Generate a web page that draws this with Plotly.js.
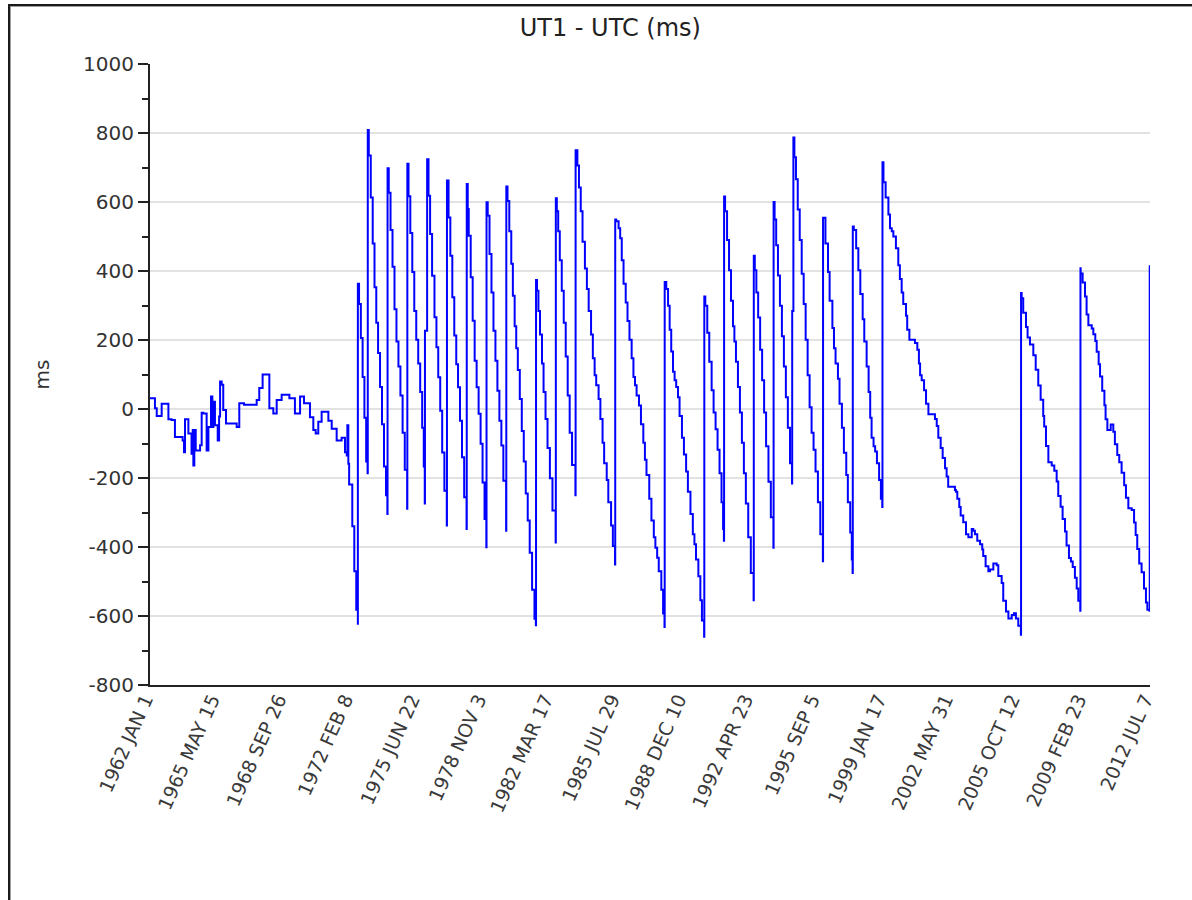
<!DOCTYPE html>
<html><head><meta charset="utf-8">
<script src="https://cdn.plot.ly/plotly-3.0.1.min.js"></script>
<style>
html,body{margin:0;padding:0;background:#fff;overflow:hidden;}
#chart{position:absolute;left:0;top:0;width:1192px;height:900px;}
#frame{position:absolute;left:8px;top:4px;width:1400px;height:1100px;border-top:2px solid #1a1a1a;border-left:2px solid #1a1a1a;box-shadow:inset 1px 1px 0 #a0a0a0;pointer-events:none;}
</style></head><body>
<div id="chart"></div><div id="frame"></div>
<script>
// Tick positions (dates) and their labels
const tickDates = ['1962-01-01','1965-05-15','1968-09-26','1972-02-08','1975-06-22','1978-11-03','1982-03-17','1985-07-29','1988-12-10','1992-04-23','1995-09-05','1999-01-17','2002-05-31','2005-10-12','2009-02-23','2012-07-07'];
const tickLabels = ['1962 JAN 1','1965 MAY 15','1968 SEP 26','1972 FEB 8','1975 JUN 22','1978 NOV 3','1982 MAR 17','1985 JUL 29','1988 DEC 10','1992 APR 23','1995 SEP 5','1999 JAN 17','2002 MAY 31','2005 OCT 12','2009 FEB 23','2012 JUL 7'];
const yTickVals = [-800,-600,-400,-200,0,200,400,600,800,1000];
const yTickLabels = ['-800','-600','-400','-200','0','200','400','600','800','1000'];

// UT1 - UTC (ms); time as decimal years
const years1962 = [1962.00,1962.25,1962.34,1962.59,1962.76,1962.93,1963.09,1963.26,1963.52,1963.65,1963.72,1963.77,1963.94,1964.10,1964.16,1964.19,1964.24,1964.31,1964.53,1964.61,1964.69,1964.86,1964.95,1965.08,1965.15,1965.20,1965.28,1965.42,1965.49,1965.54,1965.62,1965.70,1965.84,1966.38,1966.51,1966.75,1967.22,1967.39,1967.52,1967.69,1967.98,1968.03,1968.23,1968.40,1968.65,1968.91,1969.04,1969.32,1969.58,1969.78,1970.08,1970.25,1970.37,1970.50,1970.67,1971.01,1971.18,1971.43,1971.68,1971.85,1971.94,1971.97,1972.02,1972.06,1972.15,1972.22,1972.32,1972.42,1972.50];
const values1962 = [31,2,-20,15,15,-30,-32,-81,-81,-91,-125,-30,-71,-130,-61,-164,-61,-120,-105,-11,-13,-120,-52,36,-52,21,-47,-91,-22,80,70,-3,-42,-52,17,12,12,26,61,100,100,2,-13,26,41,41,31,-13,36,17,-24,-61,-71,-37,-8,-34,-57,-91,-83,-125,-135,-47,-159,-219,-219,-340,-470,-582,-625];

const years1972 = [1972.50,1972.56,1972.65,1972.74,1972.83,1972.92,1972.99,
1973.00,1973.05,1973.15,1973.25,1973.34,1973.43,1973.52,1973.62,1973.72,1973.82,1973.92,1973.99,
1974.00,1974.06,1974.15,1974.25,1974.35,1974.45,1974.55,1974.65,1974.76,1974.87,1974.99,
1975.00,1975.06,1975.15,1975.25,1975.35,1975.45,1975.55,1975.65,1975.75,1975.83,1975.88,1975.89,1976.00,
1976.00,1976.07,1976.15,1976.25,1976.37,1976.47,1976.56,1976.66,1976.76,1976.87,1976.99,
1977.00,1977.08,1977.17,1977.27,1977.37,1977.47,1977.56,1977.66,1977.76,1977.87,1977.99,
1978.00,1978.05,1978.10,1978.20,1978.30,1978.40,1978.50,1978.60,1978.70,1978.80,1978.90,1978.99,
1979.00,1979.06,1979.15,1979.25,1979.35,1979.45,1979.55,1979.65,1979.75,1979.85,1979.99,
1980.00,1980.06,1980.15,1980.25,1980.33,1980.42,1980.50,1980.58,1980.68,1980.78,1980.88,1980.98,1981.08,1981.18,1981.30,1981.42,1981.49,
1981.50,1981.55,1981.62,1981.70,1981.80,1981.88,1981.98,1982.08,1982.20,1982.33,1982.49,
1982.50,1982.55,1982.62,1982.70,1982.80,1982.90,1983.00,1983.10,1983.20,1983.32,1983.49,
1983.50,1983.59,1983.67,1983.76,1983.85,1983.97,1984.07,1984.16,1984.28,1984.37,1984.46,1984.54,1984.66,1984.75,1984.86,1984.94,1985.07,1985.15,1985.29,1985.38,1985.49,
1985.50,1985.55,1985.67,1985.75,1985.83,1985.92,1986.03,1986.12,1986.22,1986.33,1986.42,1986.50,1986.58,1986.70,1986.80,1986.92,1987.00,1987.08,1987.22,1987.33,1987.45,1987.53,1987.62,1987.70,1987.83,1987.92,1987.99,
1988.00,1988.08,1988.17,1988.25,1988.33,1988.42,1988.50,1988.58,1988.67,1988.75,1988.87,1988.97,1989.08,1989.17,1989.30,1989.42,1989.50,1989.58,1989.70,1989.80,1989.88,1989.99];
const values1972 = [363,304,206,93,-25,-152,-186,
809,735,613,480,353,250,162,64,-44,-167,-250,-304,
698,627,519,412,289,196,123,39,-69,-176,-289,
711,617,510,397,284,201,132,49,-54,-167,-274,227,227,
724,618,507,386,266,179,92,-5,-126,-237,-338,
662,555,444,324,213,130,63,-34,-140,-256,-348,
652,580,502,382,256,140,63,-14,-101,-213,-319,-401,
599,560,449,338,227,140,53,-34,-106,-208,-353,
645,603,515,421,328,240,176,113,29,-64,-152,-245,-323,-417,-524,-608,-627,
374,343,284,216,132,49,-29,-113,-201,-294,-387,
611,573,515,431,343,250,152,39,-69,-162,-250,
750,706,642,573,485,407,348,284,216,147,98,69,29,-29,-98,-157,-206,-270,-338,-397,-451,
549,544,524,495,431,363,309,255,201,147,93,69,39,10,-44,-98,-147,-191,-260,-323,-372,-402,-431,-470,-524,-593,-632,
368,348,299,230,167,108,83,64,34,-20,-83,-132,-181,-240,-304,-363,-392,-436,-485,-554,-613,-660];

const years1990 = [1990.00,1990.05,1990.15,1990.25,1990.37,1990.47,1990.57,1990.67,1990.77,1990.87,1990.95,1990.99,
1991.00,1991.05,1991.15,1991.25,1991.35,1991.45,1991.52,1991.60,1991.70,1991.80,1991.90,1992.00,1992.10,1992.22,1992.35,1992.49,
1992.50,1992.55,1992.63,1992.72,1992.82,1992.92,1993.02,1993.12,1993.24,1993.36,1993.49,
1993.50,1993.55,1993.63,1993.72,1993.82,1993.92,1994.02,1994.12,1994.22,1994.33,1994.43,1994.44,1994.50,
1994.50,1994.55,1994.63,1994.72,1994.82,1994.92,1995.02,1995.12,1995.22,1995.32,1995.42,1995.52,1995.62,1995.74,1995.86,1995.99,
1996.00,1996.12,1996.25,1996.33,1996.47,1996.55,1996.63,1996.75,1996.83,1996.95,1997.05,1997.17,1997.25,1997.37,1997.45,1997.49,
1997.50,1997.55,1997.67,1997.78,1997.88,1998.00,1998.08,1998.20,1998.30,1998.38,1998.45,1998.55,1998.63,1998.72,1998.83,1998.92,1998.99];
const values1990 = [326,299,221,137,54,-10,-59,-118,-186,-270,-348,-382,
616,573,490,402,314,240,196,137,64,-10,-98,-186,-274,-372,-475,-554,
444,402,338,265,172,83,-10,-108,-211,-314,-402,
600,549,475,387,299,211,123,34,-54,-157,-216,284,284,
787,730,666,578,490,392,304,201,98,5,-69,-118,-181,-270,-363,-441,
554,480,397,314,235,176,132,88,15,-54,-127,-191,-270,-358,-436,-475,
529,519,466,402,333,260,196,123,49,-25,-83,-108,-123,-157,-206,-260,-284];

const years1999 = [1999.00,1999.05,1999.16,1999.30,1999.38,1999.47,1999.55,1999.68,1999.80,1999.88,1999.97,2000.05,2000.19,2000.25,2000.36,2000.64,2000.76,2000.84,2000.90,2000.98,2001.10,2001.20,2001.32,2001.65,2001.74,2001.82,2001.94,2002.04,2002.16,2002.24,2002.32,2002.66,2002.71,2002.78,2002.88,2002.95,2003.08,2003.22,2003.34,2003.51,2003.59,2003.67,2003.79,2003.93,2004.04,2004.09,2004.21,2004.35,2004.43,2004.60,2004.77,2004.85,2005.02,2005.10,2005.24,2005.36,2005.53,2005.64,2005.74,2005.86,2005.99,
2006.00,2006.03,2006.11,2006.25,2006.33,2006.45,2006.62,2006.74,2006.87,2006.99,2007.12,2007.17,2007.26,2007.38,2007.55,2007.68,2007.80,2007.88,2008.00,2008.10,2008.22,2008.30,2008.42,2008.52,2008.61,2008.72,2008.81,2008.89,2008.99,
2009.00,2009.01,2009.11,2009.23,2009.31,2009.40,2009.57,2009.65,2009.75,2009.82,2009.92,2009.99,2010.10,2010.21,2010.27,2010.36,2010.53,2010.66,2010.74,2010.86,2010.96,2011.08,2011.21,2011.30,2011.42,2011.59,2011.71,2011.79,2011.87,2011.97,2012.09,2012.21,2012.31,2012.38,2012.49,
2012.50,2012.505];
const values1999 = [715,657,613,564,524,515,500,466,417,377,338,304,270,230,201,191,172,132,98,83,54,15,-15,-29,-49,-83,-113,-142,-172,-196,-225,-235,-240,-260,-284,-309,-328,-363,-372,-348,-353,-363,-382,-392,-407,-426,-456,-470,-465,-448,-453,-484,-504,-556,-587,-607,-597,-592,-607,-628,-654,
336,321,279,238,207,187,156,114,68,27,-20,-51,-107,-154,-164,-179,-210,-252,-283,-319,-355,-396,-432,-442,-458,-489,-520,-556,-585,
408,393,367,326,274,243,233,217,197,166,130,94,53,11,-30,-61,-45,-66,-102,-133,-154,-185,-221,-257,-288,-293,-329,-365,-406,-448,-473,-520,-561,-582,-585,
414,412];

function decYearToDate(y){
  const yr = Math.floor(y);
  const a = Date.UTC(yr,0,1), b = Date.UTC(yr+1,0,1);
  const d = new Date(a + (y-yr)*(b-a));
  return d.toISOString().slice(0,19).replace('T',' ');
}

const allYears = years1962.concat(years1972, years1990, years1999);
const allValues = values1962.concat(values1972, values1990, values1999);

const trace = {
  x: allYears.map(decYearToDate),
  y: allValues,
  type: 'scatter',
  mode: 'lines',
  line: {color:'#0000ff', width:2, shape:'hv'},
  hoverinfo: 'skip'
};

const layout = {
  width:1192, height:900,
  margin:{l:150, r:42, t:64, b:215, pad:0},
  paper_bgcolor:'rgba(0,0,0,0)', plot_bgcolor:'#ffffff',
  showlegend:false,
  font:{family:'"DejaVu Sans", Verdana, sans-serif', color:'#333333', size:20},
  title:{text:'UT1 - UTC (ms)', x:0.512, xref:'container', xanchor:'center', y:0.969, yref:'container', yanchor:'middle', font:{size:24, color:'#222222'}},
  xaxis:{type:'date', range:['1962-01-01','2012-07-07'], tickmode:'array', tickvals:tickDates, ticktext:tickLabels, tickangle:-66, ticks:'', ticklabelshift:-5, ticklabelstandoff:-6, showgrid:false, zeroline:false, showline:true, linecolor:'#222222', linewidth:2, tickfont:{size:19, color:'#3a3a3a'}, automargin:false},
  yaxis:{range:[-800,1000], tickmode:'array', tickvals:yTickVals, ticktext:yTickLabels, ticks:'outside', ticklen:10, tickwidth:2, tickcolor:'#222222', showline:true, linecolor:'#222222', linewidth:2, showgrid:true, gridcolor:'#e2e2e2', gridwidth:2, zeroline:false, tickfont:{size:20, color:'#333333'},
    minor:{tickmode:'linear', tick0:-800, dtick:100, ticks:'outside', ticklen:6, tickwidth:2, tickcolor:'#222222', showgrid:false},
    title:{text:'ms', standoff:28, font:{size:20, color:'#333333'}}, automargin:false}
};

Plotly.newPlot('chart', [trace], layout, {displayModeBar:false, staticPlot:true});
</script></body></html>
